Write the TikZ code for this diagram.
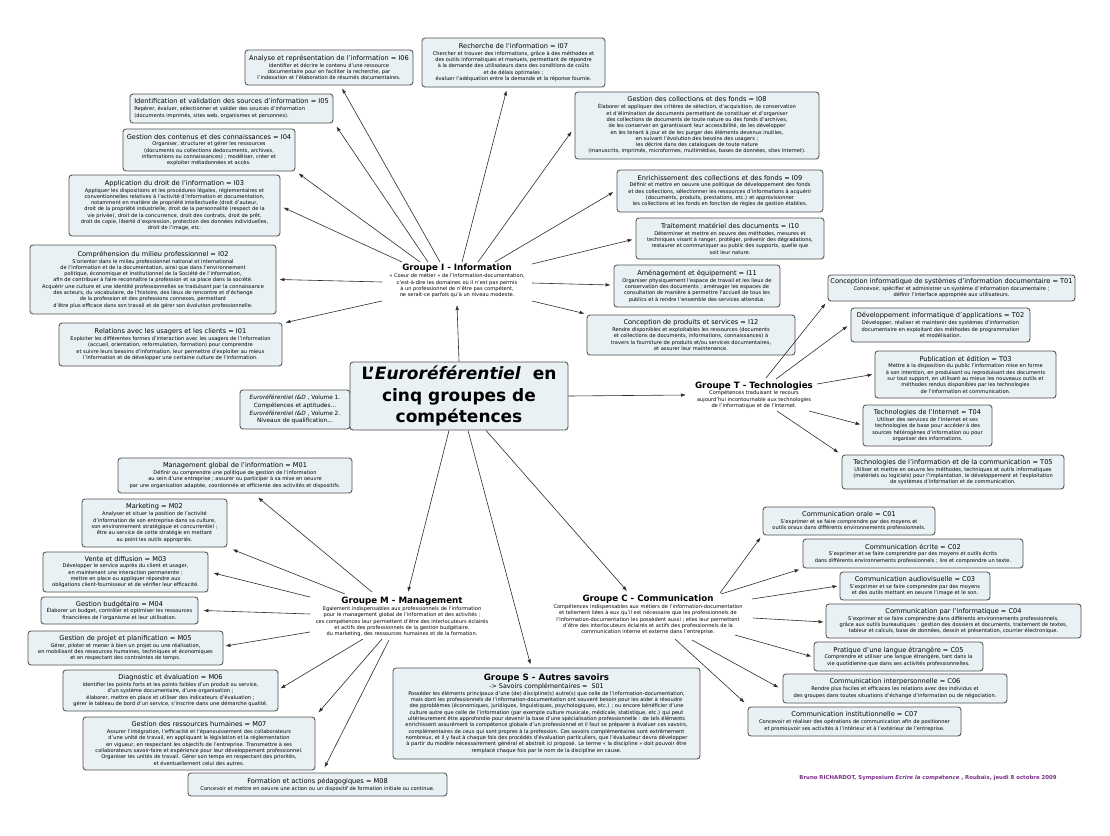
\documentclass[tikz,border=0pt]{standalone}
\usepackage{fontspec}
\setmainfont{DejaVu Sans}
\usetikzlibrary{arrows.meta,calc}
\definecolor{boxfill}{RGB}{234,241,244}
\definecolor{boxdraw}{RGB}{80,80,80}
\definecolor{lnk}{RGB}{45,45,45}
\definecolor{foot}{RGB}{122,46,138}
\newcommand\ttlf{\fontsize{6.6}{7.8}\selectfont}
\newcommand\bdyf{\fontsize{5.1}{6.3}\selectfont}
\newcommand\grpf{\fontsize{8.7}{10}\selectfont\bfseries}
\newcommand\cbox[8][]{%
 \pgfmathsetmacro\cbw{#5-#3}\pgfmathsetmacro\cbh{#6-#4}%
 \node[cbox,minimum width=\cbw pt,minimum height=\cbh pt,#1] (#2) at ({(#3+#5)/2},{(#4+#6)/2}) {{\ttlf #7}\\[0.6pt]#8};}
\tikzset{
 cbox/.style={draw=boxdraw,fill=boxfill,rounded corners=3pt,line width=0.85pt,align=center,inner sep=1.5pt,font=\bdyf},
 grp/.style={align=center,inner sep=0pt,font=\bdyf},
 arr/.style={draw=lnk,line width=0.6pt,-{Latex[length=5pt,width=3.6pt]}}
}
\begin{document}
\begin{tikzpicture}[x=1pt,y=-1pt]
\fill[white] (0,0) rectangle (1110,835);
\useasboundingbox (0,0) rectangle (1110,835);

% ---------- Groupe I children
\cbox{I06}{245}{50}{413}{85}{Analyse et représentation de l'information = I06}{Identifier et décrire le contenu d'une ressource\\documentaire pour en faciliter la recherche, par\\l'indexation et l'élaboration de résumés documentaires.}
\cbox{I07}{422}{38}{605}{87}{Recherche de l'information = I07}{Chercher et trouver des informations, grâce à des méthodes et\\des outils informatiques et manuels, permettant de répondre\\à la demande des utilisateurs dans des conditions de coûts\\et de délais optimales ;\\évaluer l'adéquation entre la demande et la réponse fournie.}
\cbox[align=left]{I05}{130}{94}{333}{123}{Identification et validation des sources d'information = I05}{Repérer, évaluer, sélectionner et valider des sources d'information\\(documents imprimés, sites web, organismes et personnes).}
\cbox{I04}{123}{129}{295}{171}{Gestion des contenus et des connaissances = I04}{Organiser, structurer et gérer les ressources\\(documents ou collections dedocuments, archives,\\informations ou connaissances) ; modéliser, créer et\\exploiter métadonnées et accès.}
\cbox{I03}{69}{175}{280}{236}{Application du droit de l'information = I03}{Appliquer les dispositions et les procédures légales, réglementaires et\\conventionnelles relatives à l'activité d'information et documentation,\\notamment en matière de propriété intellectuelle (droit d'auteur,\\droit de la propriété industrielle, droit de la personnalité (respect de la\\vie privée), droit de la concurrence, droit des contrats, droit de prêt,\\droit de copie, liberté d'expression, protection des données individuelles,\\droit de l'image, etc.}
\cbox{I02}{30}{245}{276}{314}{Compréhension du milieu professionnel = I02}{S'orienter dans le milieu professionnel national et international\\de l'information et de la documentation, ainsi que dans l'environnement\\politique, économique et institutionnel de la Société de l'information,\\afin de contribuer à faire reconnaître la profession et sa place dans la société.\\Acquérir une culture et une identité professionnelles se traduisant par la connaissance\\des acteurs, du vocabulaire, de l'histoire, des lieux de rencontre et d'échange\\de la profession et des professions connexes, permettant\\d'être plus efficace dans son travail et de gérer son évolution professionnelle.}
\cbox{I01}{59}{323}{282}{366}{Relations avec les usagers et les clients = I01}{Exploiter les différentes formes d'interaction avec les usagers de l'information\\(accueil, orientation, reformulation, formation) pour comprendre\\et suivre leurs besoins d'information, leur permettre d'exploiter au mieux\\l'information et de développer une certaine culture de l'information.}
\cbox{I08}{575}{92}{819}{159}{Gestion des collections et des fonds = I08}{Élaborer et appliquer des critères de sélection, d'acquisition, de conservation\\et d'élimination de documents permettant de constituer et d'organiser\\des collections de documents de toute nature ou des fonds d'archives,\\de les conserver en garantissant leur accessibilité, de les développer\\en les tenant à jour et de les purger des éléments devenus inutiles,\\en suivant l'évolution des besoins des usagers ;\\les décrire dans des catalogues de toute nature\\(manuscrits, imprimés, microformes, multimédias, bases de données, sites Internet).}
\cbox{I09}{617}{170}{823}{212}{Enrichissement des collections et des fonds = I09}{Définir et mettre en oeuvre une politique de développement des fonds\\et des collections, sélectionner les ressources d'informations à acquérir\\(documents, produits, prestations, etc.) et approvisionner\\les collections et les fonds en fonction de règles de gestion établies.}
\cbox{I10}{636}{218}{824}{259}{Traitement matériel des documents = I10}{Déterminer et mettre en oeuvre des méthodes, mesures et\\techniques visant à ranger, protéger, prévenir des dégradations,\\restaurer et communiquer au public des supports, quelle que\\soit leur nature.}
\cbox{I11}{614}{265}{780}{307}{Aménagement et équipement = I11}{Organiser physiquement l'espace de travail et les lieux de\\conservation des documents ; aménager les espaces de\\consultation de manière à permettre l'accueil de tous les\\publics et à rendre l'ensemble des services attendus.}
\cbox{I12}{587}{315}{795}{355}{Conception de produits et services = I12}{Rendre disponibles et exploitables les ressources (documents\\et collections de documents, informations, connaissances) à\\travers la fourniture de produits et/ou services documentaires,\\et assurer leur maintenance.}

% ---------- Groupe T children
\cbox{T01}{828}{275}{1075}{301}{Conception informatique de systèmes d'information documentaire = T01}{Concevoir, spécifier et administrer un système d'information documentaire ;\\définir l'interface appropriée aux utilisateurs.}
\cbox{T02}{851}{308}{1030}{342}{Développement informatique d'applications = T02}{Développer, réaliser et maintenir des systèmes d'information\\documentaire en exploitant des méthodes de programmation\\et modélisation.}
\cbox{T03}{875}{351}{1056}{398}{Publication et édition = T03}{Mettre à la disposition du public l'information mise en forme\\à son intention, en produisant ou reproduisant des documents\\sur tout support, en utilisant au mieux les nouveaux outils et\\méthodes rendus disponibles par les technologies\\de l'information et communication.}
\cbox{T04}{863}{405}{992}{446}{Technologies de l'Internet = T04}{Utiliser des services de l'Internet et ses\\technologies de base pour accéder à des\\sources hétérogènes d'information ou pour\\organiser des informations.}
\cbox{T05}{842}{455}{1064}{489}{Technologies de l'information et de la communication = T05}{Utiliser et mettre en oeuvre les méthodes, techniques et outils informatiques\\(matériels ou logiciels) pour l'implantation, le développement et l'exploitation\\de systèmes d'information et de communication.}

% ---------- Groupe M children
\cbox{M01}{118}{458}{352}{493}{Management global de l'information = M01}{Définir ou comprendre une politique de gestion de l'information\\au sein d'une entreprise ; assurer ou participer à sa mise en oeuvre\\par une organisation adaptée, coordonnée et efficiente des activités et dispositifs.}
\cbox{M02}{82}{499}{227}{547}{Marketing = M02}{Analyser et situer la position de l'activité\\d'information de son entreprise dans sa culture,\\son environnement stratégique et concurrentiel ;\\être au service de cette stratégie en mettant\\au point les outils appropriés.}
\cbox{M03}{43}{552}{208}{592}{Vente et diffusion = M03}{Développer le service auprès du client et usager,\\en maintenant une interaction permanente ;\\mettre en place ou appliquer répondre aux\\obligations client-fournisseur et de vérifier leur efficacité.}
\cbox{M04}{41}{597}{198}{624}{Gestion budgétaire = M04}{Élaborer un budget, contrôler et optimiser les ressources\\financières de l'organisme et leur utilisation.}
\cbox{M05}{28}{631}{223}{665}{Gestion de projet et planification = M05}{Gérer, piloter et mener à bien un projet ou une réalisation,\\en mobilisant des ressources humaines, techniques et économiques\\et en respectant des contraintes de temps.}
\cbox{M06}{63}{670}{278}{711}{Diagnostic et évaluation = M06}{Identifier les points forts et les points faibles d'un produit ou service,\\d'un système documentaire, d'une organisation ;\\élaborer, mettre en place et utiliser des indicateurs d'évaluation ;\\gérer le tableau de bord d'un service, s'inscrire dans une démarche qualité.}
\cbox{M07}{83}{717}{315}{770}{Gestion des ressources humaines = M07}{Assurer l'intégration, l'efficacité et l'épanouissement des collaborateurs\\d'une unité de travail, en appliquant la législation et la réglementation\\en vigueur, en respectant les objectifs de l'entreprise. Transmettre à ses\\collaborateurs savoir-faire et expérience pour leur développement professionnel.\\Organiser les unités de travail. Gérer son temps en respectant des priorités,\\et éventuellement celui des autres.}
\cbox{M08}{188}{773}{447}{796}{Formation et actions pédagogiques = M08}{Concevoir et mettre en oeuvre une action ou un dispositif de formation initiale ou continue.}

% ---------- Groupe C children
\cbox{C01}{763}{507}{935}{535}{Communication orale = C01}{S'exprimer et se faire comprendre par des moyens et\\outils oraux dans différents environnements professionnels.}
\cbox{C02}{803}{539}{1023}{568}{Communication écrite = C02}{S'exprimer et se faire comprendre par des moyens et outils écrits\\dans différents environnements professionnels ; lire et comprendre un texte.}
\cbox{C03}{840}{572}{990}{600}{Communication audiovisuelle = C03}{S'exprimer et se faire comprendre par des moyens\\et des outils mettant en oeuvre l'image et le son.}
\cbox{C04}{826}{604}{1081}{638}{Communication par l'informatique = C04}{S'exprimer et se faire comprendre dans différents environnements professionnels,\\grâce aux outils bureautiques : gestion des dossiers et documents, traitement de textes,\\tableur et calculs, base de données, dessin et présentation, courrier électronique.}
\cbox{C05}{814}{642}{983}{671}{Pratique d'une langue étrangère = C05}{Comprendre et utiliser une langue étrangère, tant dans la\\vie quotidienne que dans ses activités professionnelles.}
\cbox{C06}{783}{674}{1007}{703}{Communication interpersonnelle = C06}{Rendre plus faciles et efficaces les relations avec des individus et\\des groupes dans toutes situations d'échange d'information ou de négociation.}
\cbox{C07}{748}{707}{961}{736}{Communication institutionnelle = C07}{Concevoir et réaliser des opérations de communication afin de positionner\\et promouvoir ses activités à l'intérieur et à l'extérieur de l'entreprise.}

% ---------- Groupe S
\node[cbox,minimum width=307pt,minimum height=91pt] (gS) at (546.5,713.5) {{\grpf Groupe S - Autres savoirs}\\{\fontsize{6.4}{7.5}\selectfont -> Savoirs complémentaires = \ S01}\\[0.5pt]Posséder les éléments principaux d'une (de) discipline(s) autre(s) que celle de l'information-documentation,\\mais dont les professionnels de l'information-documentation ont souvent besoin pour les aider à résoudre\\des pproblèmes (économiques, juridiques, linguistiques, psychologiques, etc.) ; ou encore bénéficier d'une\\culture autre que celle de l'information (par exemple culture musicale, médicale, statistique, etc.) qui peut\\ultérieurement être approfondie pour devenir la base d'une spécialisation professionnelle : de tels éléments\\enrichissent assurément la compétence globale d'un professionnel et il faut se préparer à évaluer ces savoirs,\\complémentaires de ceux qui sont propres à la profession. Ces savoirs complémentaires sont extrêmement\\nombreux, et il y faut à chaque fois des procédés d'évaluation particuliers, que l'évaluateur devra développer\\à partir du modèle nécessairement général et abstrait ici proposé. Le terme « la discipline » doit pouvoir être\\remplacé chaque fois par le nom de la discipline en cause.};

% ---------- group labels
\node[grp] (gI) at (457,281) {{\grpf Groupe I - Information}\\[0.5pt]« Coeur de métier » de l'information-documentation,\\c'est-à-dire les domaines où il n'est pas permis\\à un professionnel de n'être pas compétent,\\ne serait-ce parfois qu'à un niveau modeste.};
\node[grp] (gT) at (754,395) {{\grpf Groupe T - Technologies}\\[0.5pt]Compétences traduisant le recours\\aujourd'hui incontournable aux technologies\\de l'informatique et de l'Internet.};
\node[grp] (gM) at (402,617) {{\grpf Groupe M - Management}\\[0.5pt]Egalement indispensables aux professionnels de l'information\\pour le management global de l'information et des activités ;\\ces compétences leur permettent d'être des interlocuteurs éclairés\\et actifs des professionnels de la gestion budgétaire,\\du marketing, des ressources humaines et de la formation.};
\node[grp] (gC) at (648,615) {{\grpf Groupe C - Communication}\\[0.5pt]Compétences indispensables aux métiers de l'information-documentation\\et tellement liées à eux qu'il est nécessaire que les professionnels de\\l'information-documentation les possèdent aussi ; elles leur permettent\\d'être des interlocuteurs éclairés et actifs des professionnels de la\\communication interne et externe dans l'entreprise.};

% ---------- centre
\node[cbox,minimum width=110pt,minimum height=39pt,font=\fontsize{5.8}{7.6}\selectfont] (note) at (295,409.5) {\textit{Euroréférentiel I\&D} , Volume 1.\\Compétences et aptitudes...\\\textit{Euroréférentiel I\&D} , Volume 2.\\Niveaux de qualification...};
\node[cbox,minimum width=218pt,minimum height=68pt,inner sep=2pt,font=\fontsize{17}{21.5}\selectfont\bfseries] (ctr) at (459,396) {L'\textit{Euroréférentiel}\ \ en\\cinq groupes de\\compétences};

\node[inner sep=0pt,text=foot,font=\fontsize{5.4}{6.4}\selectfont\bfseries] (foot) at (928,778) {Bruno RICHARDOT, Symposium \textit{Ecrire la compétence} , Roubaix, jeudi 8 octobre 2009};

% ---------- centre -> groups
\draw[arr] (ctr.north) -- ($(gI)+(0,24)$);
\draw[arr] (ctr.east) -- ($(gT)+(-68,0)$);
\draw[arr] ($(ctr.south)+(-10,0)$) -- ($(gM)+(6,-25)$);
\draw[arr] ($(ctr.south)+(9,0)$) -- ($(gS.north)+(-16,-3)$);
\draw[arr] ($(ctr.south)+(27,0)$) -- ($(gC)+(-21,-24)$);

% ---------- Groupe I edges
\draw[arr] ($(gI)+(-55,-19)$) -- ($(I03.east)+(3,2)$);
\draw[arr] ($(gI)+(-37,-19)$) -- ($(I04.south east)+(3,2)$);
\draw[arr] ($(gI)+(-29,-19)$) -- ($(I05.south east)+(3,3)$);
\draw[arr] ($(gI)+(-17,-19)$) -- ($(I06.south)+(13,3)$);
\draw[arr] ($(gI)+(5,-19)$) -- ($(I07.south)+(-7,3)$);
\draw[arr] ($(gI)+(21,-19)$) -- ($(I08.west)+(-3,6)$);
\draw[arr] ($(gI)+(38,-19)$) -- ($(I09.west)+(-3,1)$);
\draw[arr] ($(gI)+(75,-17)$) -- ($(I10.west)+(-3,1)$);
\draw[arr] ($(gI)+(75,2)$) -- ($(I11.west)+(-3,-1)$);
\draw[arr] ($(gI)+(75,20)$) -- ($(I12.north west)+(-2,-1)$);
\draw[arr] ($(gI)+(-75,1)$) -- ($(I02.east)+(3,0)$);
\draw[arr] ($(gI)+(-75,20)$) -- ($(I01.north east)+(3,0)$);

% ---------- Groupe T edges
\draw[arr] ($(gT)+(12,-17)$) -- ($(T01.south west)+(-2,2)$);
\draw[arr] ($(gT)+(22,-16)$) -- ($(T02.west)+(-3,1)$);
\draw[arr] ($(gT)+(63,-11)$) -- ($(T03.west)+(-2,0)$);
\draw[arr] ($(gT)+(55,16)$) -- ($(T04.west)+(-2,-1)$);
\draw[arr] ($(gT)+(23,16)$) -- ($(T05.north west)+(-3,-2)$);

% ---------- Groupe M edges
\draw[arr] ($(gM)+(-30,-25)$) -- ($(M01.south)+(23,4)$);
\draw[arr] ($(gM)+(-57,-23)$) -- ($(M02.south east)+(5,2)$);
\draw[arr] ($(gM)+(-92,-20)$) -- ($(M03.east)+(5,1)$);
\draw[arr] ($(gM)+(-92,-3)$) -- ($(M04.east)+(5,0)$);
\draw[arr] ($(gM)+(-92,15)$) -- ($(M05.east)+(2,-2)$);
\draw[arr] ($(gM)+(-39,22)$) -- ($(M06.east)+(2,-2)$);
\draw[arr] ($(gM)+(-20,22)$) -- ($(M07.north east)+(3,-4)$);
\draw[arr] ($(gM)+(-13,23)$) -- ($(M08.north)+(7,-5)$);

% ---------- Groupe C edges
\draw[arr] ($(gC)+(72,-22)$) -- ($(C01.south west)+(-2,2)$);
\draw[arr] ($(gC)+(73,-21)$) -- ($(C02.south west)+(-3,1)$);
\draw[arr] ($(gC)+(104,-16)$) -- ($(C03.west)+(-2,0)$);
\draw[arr] ($(gC)+(105,3)$) -- ($(C04.west)+(-2,1)$);
\draw[arr] ($(gC)+(87,20)$) -- ($(C05.west)+(-2,0)$);
\draw[arr] ($(gC)+(44,25)$) -- ($(C06.west)+(-4,-1)$);
\draw[arr] ($(gC)+(27,24)$) -- ($(C07.north west)+(-3,-4)$);
\end{tikzpicture}
\end{document}
